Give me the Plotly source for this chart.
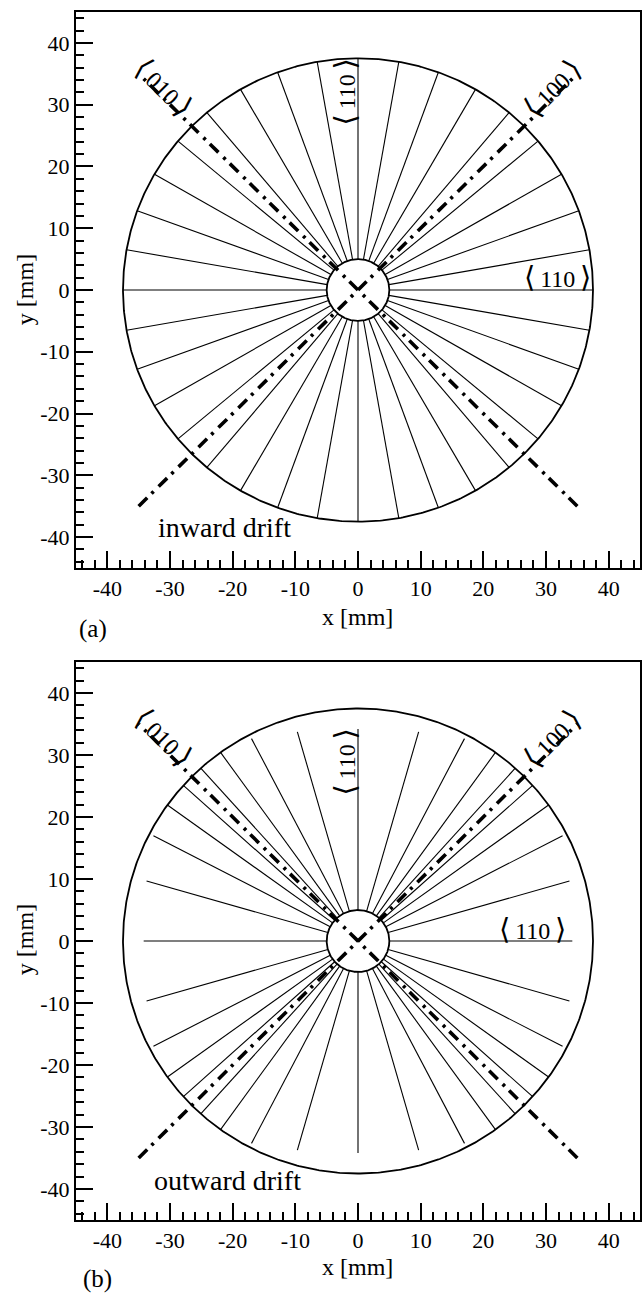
import numpy as np
import plotly.graph_objects as go

# ---------------- data ----------------
R_OUTER = 37.5          # mm, outer detector radius
R_INNER = 5.0           # mm, inner contact radius

# panel (a): inward drift, spoke angles (deg) and end radii (mm)
a_angles = [0, 10, 20, 30, 40, 50, 60, 70, 80, 90, 100, 110, 120, 130, 140, 150, 160, 170,
            180, 190, 200, 210, 220, 230, 240, 250, 260, 270, 280, 290, 300, 310, 320, 330, 340, 350]
a_end_r = [37.5] * 36

# panel (b): outward drift, spoke angles (deg) and end radii (mm)
b_angles = [0, 16.0, 27.5, 35.8, 42.0, 48.0, 54.2, 62.5, 74.0,
            90, 106.0, 117.5, 125.8, 132.0, 138.0, 144.2, 152.5, 164.0,
            180, 196.0, 207.5, 215.8, 222.0, 228.0, 234.2, 242.5, 254.0,
            270, 286.0, 297.5, 305.8, 312.0, 318.0, 324.2, 332.5, 344.0]
b_end_r = [34.2, 35.1, 36.8, 37.5, 37.5, 37.5, 37.5, 36.8, 35.1,
           34.2, 35.1, 36.8, 37.5, 37.5, 37.5, 37.5, 36.8, 35.1,
           34.2, 35.1, 36.8, 37.5, 37.5, 37.5, 37.5, 36.8, 35.1,
           34.2, 35.1, 36.8, 37.5, 37.5, 37.5, 37.5, 36.8, 35.1]

# <100> axes (dash-dot) end points
diag_x1 = [-35, 35]; diag_y1 = [-35, 35]
diag_x2 = [35, -35]; diag_y2 = [-35, 35]

tick_vals = [-40, -30, -20, -10, 0, 10, 20, 30, 40]
tick_text = ["-40", "-30", "-20", "-10", "0", "10", "20", "30", "40"]
minor_vals = [-44, -42, -38, -36, -34, -32, -28, -26, -24, -22, -18, -16, -14, -12, -8, -6, -4, -2,
              2, 4, 6, 8, 12, 14, 16, 18, 22, 24, 26, 28, 32, 34, 36, 38, 42, 44]

panel_labels = ["(a)", "(b)"]
drift_labels = ["inward drift", "outward drift"]

# ---------------- layout constants ----------------
W, H = 643, 1294
ML, MR, MT, MB = 76, 1, 12, 74
PW, PH = W - ML - MR, H - MT - MB
FONT = "Liberation Serif, DejaVu Serif, serif"

def px(xp):  # page pixel -> paper x
    return (xp - ML) / PW

def py(yp):  # page pixel -> paper y
    return (H - MB - yp) / PH

dom_a = [py(568), py(12)]
dom_b = [py(1220), py(662)]

fig = go.Figure()

def spokes(angles, rend):
    xs, ys = [], []
    for a, r in zip(angles, rend):
        t = np.deg2rad(a)
        xs += [R_INNER * np.cos(t), r * np.cos(t), None]
        ys += [R_INNER * np.sin(t), r * np.sin(t), None]
    return xs, ys

th = np.linspace(0, 2 * np.pi, 721)

for k, (angles, rend, xa, ya) in enumerate([(a_angles, a_end_r, "x", "y"),
                                            (b_angles, b_end_r, "x2", "y2")]):
    sx, sy = spokes(angles, rend)
    fig.add_trace(go.Scatter(x=sx, y=sy, mode="lines", xaxis=xa, yaxis=ya,
                             line=dict(color="black", width=1.1), hoverinfo="skip"))
    fig.add_trace(go.Scatter(x=R_OUTER * np.cos(th), y=R_OUTER * np.sin(th), mode="lines",
                             xaxis=xa, yaxis=ya, line=dict(color="black", width=1.8),
                             hoverinfo="skip"))
    fig.add_trace(go.Scatter(x=R_INNER * np.cos(th), y=R_INNER * np.sin(th), mode="lines",
                             xaxis=xa, yaxis=ya, line=dict(color="black", width=1.8),
                             hoverinfo="skip"))
    for dx, dy in [(diag_x1, diag_y1), (diag_x2, diag_y2)]:
        fig.add_trace(go.Scatter(x=dx, y=dy, mode="lines", xaxis=xa, yaxis=ya,
                                 line=dict(color="black", width=3.6, dash="12px,6px,3px,7px"),
                                 hoverinfo="skip"))

axis_common = dict(range=[-45, 45], showline=True, mirror=True, linewidth=2, linecolor="black",
                   ticks="inside", ticklen=17, tickwidth=1.5, tickcolor="black",
                   tickmode="array", tickvals=tick_vals, ticktext=tick_text,
                   minor=dict(tickmode="array", tickvals=minor_vals, ticks="inside",
                              ticklen=8, tickwidth=1.5, tickcolor="black"),
                   showgrid=False, zeroline=False,
                   tickfont=dict(family=FONT, size=22, color="black"))

fig.update_layout(
    width=W, height=H, margin=dict(l=ML, r=MR, t=MT, b=MB),
    paper_bgcolor="white", plot_bgcolor="white", showlegend=False,
    xaxis=dict(axis_common, domain=[0, 1], anchor="y"),
    yaxis=dict(axis_common, domain=dom_a, anchor="x"),
    xaxis2=dict(axis_common, domain=[0, 1], anchor="y2"),
    yaxis2=dict(axis_common, domain=dom_b, anchor="x2"),
)

def brk(s):
    big = "<span style='font-size:29px'>"
    return big + "\u27e8</span>\u2009" + s + "\u2009" + big + "\u27e9</span>"

ann = []
lab = dict(family=FONT, size=24, color="black")
for k, (xr, yr) in enumerate([("x", "y"), ("x2", "y2")]):
    off = 0 if k == 0 else 650
    # crystal axis labels
    ann.append(dict(x=31.0, y=32.7, xref=xr, yref=yr, text=brk("100"),
                    textangle=-45, showarrow=False, font=lab, xanchor="center", yanchor="middle"))
    ann.append(dict(x=-31.0, y=32.9, xref=xr, yref=yr, text=brk("010"),
                    textangle=45, showarrow=False, font=lab, xanchor="center", yanchor="middle"))
    ann.append(dict(x=-2.05, y=(32.0 if k == 0 else 28.8), xref=xr, yref=yr, text=brk("110"),
                    textangle=-90, showarrow=False, font=lab, xanchor="center", yanchor="middle"))
    ann.append(dict(x=(31.8 if k == 0 else 27.9), y=(2.05 if k == 0 else 1.9), xref=xr, yref=yr,
                    text=brk("110"), showarrow=False, font=lab, xanchor="center", yanchor="middle"))
    ann.append(dict(x=(-32.2 if k == 0 else -32.9), y=(-38.5 if k == 0 else -38.7), xref=xr, yref=yr,
                    text=drift_labels[k], showarrow=False,
                    font=dict(family=FONT, size=28, color="black"),
                    xanchor="left", yanchor="middle"))
    # axis titles
    ann.append(dict(x=px(358), y=py(617 + off), xref="paper", yref="paper", text="x [mm]",
                    showarrow=False, font=dict(family=FONT, size=24, color="black"),
                    xanchor="center", yanchor="middle"))
    ann.append(dict(x=px(25), y=py(290 + off), xref="paper", yref="paper", text="y [mm]",
                    textangle=-90, showarrow=False, font=dict(family=FONT, size=24, color="black"),
                    xanchor="center", yanchor="middle"))
    ann.append(dict(x=px(93 + (5 if k else 0)), y=py(629 + off), xref="paper", yref="paper",
                    text=panel_labels[k], showarrow=False,
                    font=dict(family=FONT, size=25, color="black"),
                    xanchor="center", yanchor="middle"))

fig.update_layout(annotations=ann)
fig.write_html("out.html")
